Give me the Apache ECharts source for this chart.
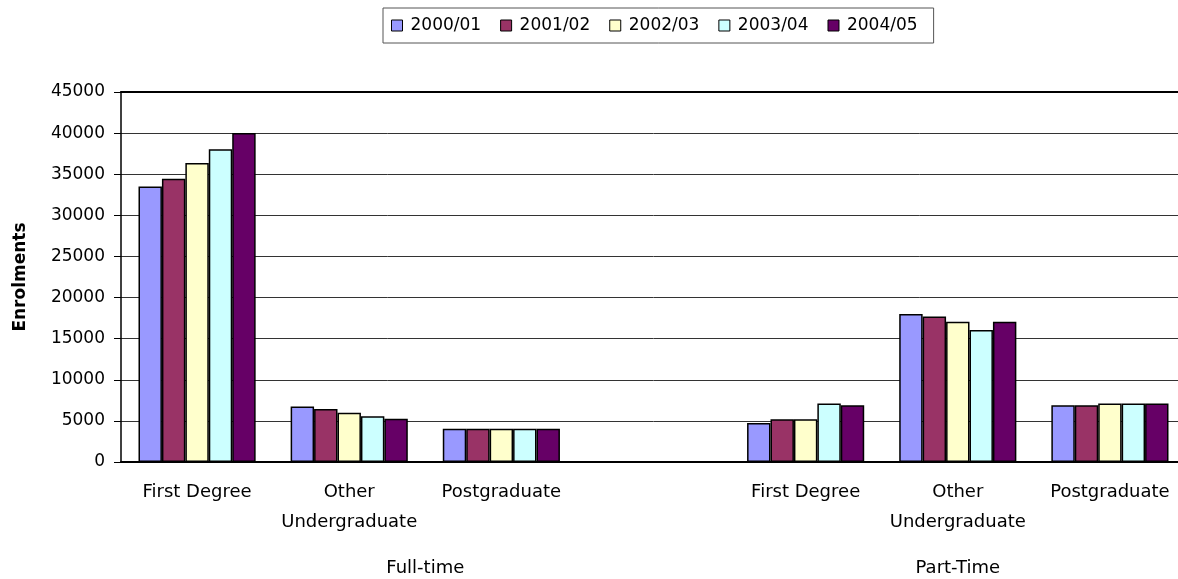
<!DOCTYPE html>
<html>
<head>
<meta charset="utf-8">
<script src="https://cdn.jsdelivr.net/npm/echarts@6/dist/echarts.min.js"></script>
<style>
html,body{margin:0;padding:0;background:#fff;overflow:hidden;}
#c{width:1189px;height:579px;}
</style>
</head>
<body>
<div id="c"></div>
<script>
const categories = ['First Degree', 'Other\nUndergraduate', 'Postgraduate', '', 'First Degree', 'Other\nUndergraduate', 'Postgraduate'];
const groupLabels = { '1.5': 'Full-time', '5': 'Part-Time' };
const seriesNames = ['2000/01', '2001/02', '2002/03', '2003/04', '2004/05'];
const s2000 = [33500, 6750, 4050, null, 4750, 18000, 6900];
const s2001 = [34450, 6450, 4050, null, 5200, 17700, 6900];
const s2002 = [36350, 6000, 4050, null, 5200, 17050, 7100];
const s2003 = [38050, 5550, 4050, null, 7100, 16050, 7100];
const s2004 = [40000, 5250, 4050, null, 6900, 17050, 7100];
const yTicks = { min: 0, max: 45000, interval: 5000 };
const colors = ['#9999FF', '#993366', '#FFFFCC', '#CCFFFF', '#660066'];

const seriesData = [s2000, s2001, s2002, s2003, s2004];
const FONT = 'DejaVu Sans';

const chart = echarts.init(document.getElementById('c'), null, { renderer: 'canvas' });
chart.setOption({
  animation: false,
  color: colors,
  textStyle: { fontFamily: FONT, color: '#000' },
  legend: {
    left: 383, top: 8,
    padding: [9, 16, 9, 8],
    itemWidth: 11, itemHeight: 11, itemGap: 19,
    icon: 'rect',
    borderColor: '#555', borderWidth: 1,
    textStyle: { fontFamily: FONT, fontSize: 17, color: '#000', padding: [0, 0, 0, 3] },
    itemStyle: { borderColor: '#000', borderWidth: 1 },
    data: seriesNames
  },
  grid: { left: 121, top: 92, bottom: 117, right: 0, containLabel: false },
  xAxis: [
    {
      type: 'category', data: categories, position: 'bottom',
      axisLine: { lineStyle: { color: '#000', width: 2 } },
      axisTick: { show: false },
      axisLabel: { interval: 0, fontFamily: FONT, fontSize: 18, color: '#000', lineHeight: 30, margin: 15 }
    },
    {
      type: 'value', min: -0.5, max: 6.5, interval: 0.5, position: 'bottom',
      axisLine: { show: false }, axisTick: { show: false }, splitLine: { show: false },
      axisLabel: {
        fontFamily: FONT, fontSize: 18, color: '#000', margin: 97,
        showMinLabel: true, showMaxLabel: true,
        formatter: v => groupLabels[String(v)] || ''
      }
    },
    {
      type: 'category', data: categories, position: 'top',
      axisLine: { lineStyle: { color: '#000', width: 2 } },
      axisTick: { show: false }, axisLabel: { show: false }
    }
  ],
  yAxis: {
    type: 'value', min: yTicks.min, max: yTicks.max, interval: yTicks.interval,
    name: 'Enrolments', nameLocation: 'middle', nameGap: 92,
    nameTextStyle: { fontFamily: FONT, fontSize: 17, fontWeight: 'bold', color: '#000' },
    axisLine: { show: true, onZero: false, lineStyle: { color: '#000', width: 1.5 } },
    axisTick: { show: true, length: 7, lineStyle: { color: '#000' } },
    axisLabel: { fontFamily: FONT, fontSize: 17, color: '#000', margin: 16, formatter: v => String(v) },
    splitLine: { lineStyle: { color: '#333', width: 1 } }
  },
  series: seriesNames.map((n, i) => ({
    name: n, type: 'bar', xAxisIndex: 0, data: seriesData[i],
    barGap: '0%', barCategoryGap: '23%',
    itemStyle: { color: colors[i], borderColor: '#000', borderWidth: 1.5 }
  }))
});
</script>
</body>
</html>
